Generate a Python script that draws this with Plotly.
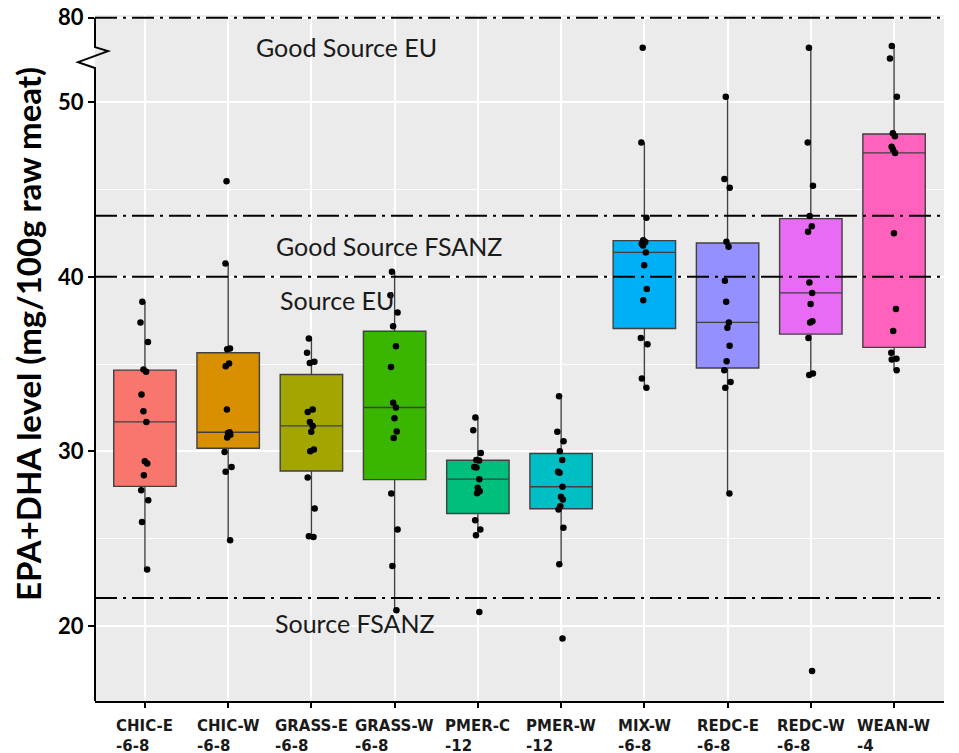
import plotly.graph_objects as go

# ---------------- data ----------------
categories = ["CHIC-E", "CHIC-W", "GRASS-E", "GRASS-W", "PMER-C",
              "PMER-W", "MIX-W", "REDC-E", "REDC-W", "WEAN-W"]
age_labels = ["-6-8", "-6-8", "-6-8", "-6-8", "-12",
              "-12", "-6-8", "-6-8", "-6-8", "-4"]
box_colors = ["#F8766D", "#D89000", "#A3A500", "#39B600", "#00BF7D",
              "#00BFC4", "#00B0F6", "#9590FF", "#E76BF3", "#FF62BC"]

chic_e = [38.57, 37.39, 36.26, 34.69, 34.56, 33.26, 32.30, 31.69, 29.44, 29.31, 28.64, 27.78, 27.20, 25.96, 23.23]
chic_w = [45.48, 40.77, 35.90, 35.85, 35.04, 34.88, 32.40, 31.10, 31.05, 30.95, 30.80, 29.97, 29.11, 28.83, 24.91]
grass_e = [36.47, 35.65, 35.13, 35.07, 32.40, 32.26, 31.69, 31.46, 31.12, 30.11, 30.01, 28.50, 26.73, 25.14, 25.10]
grass_w = [40.29, 38.95, 37.96, 37.17, 36.03, 34.84, 32.78, 32.51, 31.90, 31.14, 30.77, 27.59, 25.52, 23.44, 20.90]
pmer_c = [31.94, 31.21, 29.91, 29.50, 29.48, 29.11, 29.08, 28.41, 27.91, 27.72, 27.60, 26.06, 25.52, 25.20, 20.80]
pmer_w = [33.16, 31.12, 30.58, 30.01, 29.50, 28.83, 28.78, 27.97, 27.40, 27.25, 26.86, 26.67, 25.62, 23.54, 19.28]
mix_w = [53.12, 47.70, 43.38, 42.10, 42.00, 41.90, 41.80, 41.40, 40.67, 39.30, 38.66, 36.50, 36.14, 34.18, 33.64]
redc_e = [50.32, 45.60, 45.10, 42.01, 41.72, 39.77, 38.57, 37.39, 37.08, 36.05, 35.17, 34.65, 33.98, 33.64, 27.59]
redc_w = [53.12, 47.70, 45.22, 43.48, 42.90, 42.58, 39.68, 39.08, 38.44, 37.45, 37.38, 36.50, 34.46, 34.37, 17.42]
wean_w = [53.22, 52.51, 50.32, 48.22, 48.06, 47.45, 47.30, 47.10, 42.49, 38.15, 36.89, 35.65, 35.30, 35.27, 34.65]
series = [chic_e, chic_w, grass_e, grass_w, pmer_c, pmer_w, mix_w, redc_e, redc_w, wean_w]

# y ticks (the axis is broken between 50 and 80)
ytick_values = [20, 30, 40, 50, 80]
minor_values = [25, 35, 45]

# reference lines
threshold_values = [80, 43.5, 40, 21.6]
threshold_labels = ["Good Source EU", "Good Source FSANZ", "Source EU", "Source FSANZ"]

# ---------------- axis break mapping ----------------
BREAK_LOW, BREAK_HIGH, BREAK_DISPLAY_TOP = 50, 80, 54.84


def disp(v):
    if v <= BREAK_LOW:
        return v
    return BREAK_LOW + (v - BREAK_LOW) * (BREAK_DISPLAY_TOP - BREAK_LOW) / (BREAK_HIGH - BREAK_LOW)


Y_RANGE = [15.7, 55.0]
X_RANGE = [-0.6, len(categories) - 0.4]

fig = go.Figure()
for i, (name, vals, col) in enumerate(zip(categories, series, box_colors)):
    fig.add_trace(go.Box(
        y=vals, x=[i] * len(vals), name=name,
        boxpoints="all", jitter=0.16, pointpos=0,
        quartilemethod="linear", width=0.75, whiskerwidth=0,
        fillcolor=col, line=dict(color="#404040", width=1.4),
        marker=dict(color="black", size=6.5),
        showlegend=False, hoverinfo="y",
    ))

shapes = []
dash = "22px,6px,3px,6px"
for v in threshold_values:
    shapes.append(dict(type="line", xref="paper", yref="y", x0=0, x1=1,
                       y0=disp(v), y1=disp(v), layer="above",
                       line=dict(color="black", width=2, dash=dash)))

# y-axis line with zig-zag break
zig = (f"M 0,{Y_RANGE[1] - 0.16} L 0,53.16 L 0.0153,52.93 L -0.020,52.30 "
       f"L 0,51.96 L 0,{Y_RANGE[0]}")
shapes.append(dict(type="path", xref="paper", yref="y", path=zig, layer="above",
                   line=dict(color="black", width=2)))

annotations = []
label_x = [0.187, 0.211, 0.215, 0.210]
label_shift = [-29, -30, -23, -25]
for v, t, lx, sh in zip(threshold_values, threshold_labels, label_x, label_shift):
    annotations.append(dict(x=lx, xref="paper", y=disp(v), yref="y", yshift=sh,
                            text=t, showarrow=False, xanchor="left", yanchor="middle",
                            font=dict(family="Lato", size=25, color="#1a1a1a")))

for i, (c, a) in enumerate(zip(categories, age_labels)):
    annotations.append(dict(x=i, xref="x", y=0, yref="paper", yshift=-14,
                            text=f"<b>{c}<br>{a}</b>", showarrow=False,
                            xanchor="center", yanchor="top", align="left",
                            font=dict(family="DejaVu Sans", size=15, color="#1a1a1a")))

annotations.append(dict(x=0, xref="paper", y=0.535, yref="paper", xshift=-67,
                        text="<b>EPA+DHA level (mg/100g raw meat)</b>", textangle=-90,
                        showarrow=False, xanchor="center", yanchor="middle",
                        font=dict(family="Lato", size=33, color="black")))

fig.update_layout(
    width=959, height=753,
    margin=dict(l=95, r=15, t=15, b=52, autoexpand=False),
    paper_bgcolor="white", plot_bgcolor="#EBEBEB",
    shapes=shapes, annotations=annotations,
    xaxis=dict(range=X_RANGE, tickvals=list(range(len(categories))),
               ticktext=[""] * len(categories), automargin=False,
               showgrid=True, gridcolor="white", gridwidth=1.5,
               zeroline=False, showline=True, linecolor="black", linewidth=2,
               ticks="outside", ticklen=5, tickwidth=1.5, tickcolor="black"),
    yaxis=dict(range=Y_RANGE, tickvals=[disp(v) for v in ytick_values],
               ticktext=[str(v) for v in ytick_values], automargin=False,
               showgrid=True, gridcolor="white", gridwidth=1.5,
               zeroline=False, showline=False,
               ticks="outside", ticklen=6, tickwidth=2, tickcolor="black",
               tickfont=dict(family="Lato", size=22, color="black", weight="bold"),
               minor=dict(tickvals=minor_values, showgrid=True, gridcolor="white",
                          gridwidth=0.7, ticks="")),
)

fig.write_html(
    "out.html",
    config={"displayModeBar": False},
    post_script="document.body.style.margin='0';document.body.style.overflow='hidden';",
)
